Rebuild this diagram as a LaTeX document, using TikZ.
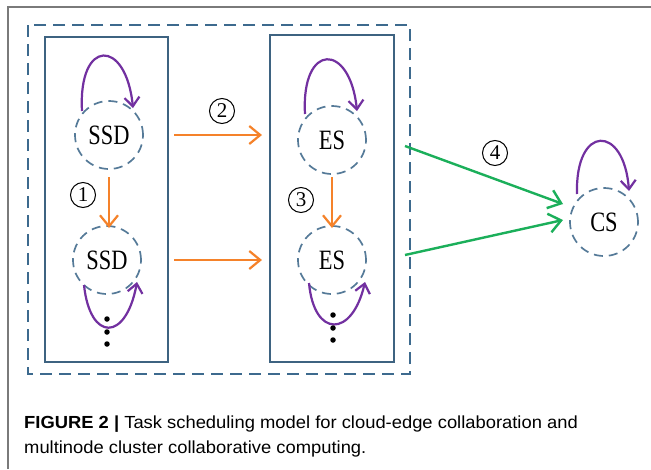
\documentclass[tikz,border=0pt]{standalone}
\usepackage{fontspec}
\setmainfont{Liberation Serif}
\newfontfamily\capfont{Liberation Sans}
\usetikzlibrary{arrows.meta}
\definecolor{frameg}{HTML}{7A7A7A}
\definecolor{boxblue}{HTML}{3E6381}
\definecolor{dashblue}{HTML}{3D6A8E}
\definecolor{circblue}{HTML}{557A98}
\definecolor{orng}{HTML}{F5822A}
\definecolor{grn}{HTML}{1BAF5A}
\definecolor{purp}{HTML}{7230A0}
\tikzset{
  x=1pt, y=-1pt,
  nodec/.style={circle, draw=circblue, line width=1.7pt, dash pattern=on 9pt off 6pt, minimum size=68pt, inner sep=0pt},
  nodetxt/.style={font=\fontsize{28}{28}\selectfont, inner sep=0pt, xscale=0.8, transform shape},
  orarrow/.style={draw=orng, line width=2.2pt, -{Straight Barb[length=11pt,width=18pt,line width=2.2pt]}},
  grarrow/.style={draw=grn, line width=2.4pt, -{Straight Barb[length=12pt,width=19pt,line width=2.4pt]}},
  loopar/.style={draw=purp, line width=2.2pt, -{Straight Barb[length=9pt,width=15pt,line width=2.2pt]}},
  numlab/.style={circle, draw=black, line width=1pt, minimum width=25pt, minimum height=25pt, inner sep=0pt, font=\fontsize{21}{21}\selectfont},
  dotn/.style={circle, fill=black, minimum size=5.5pt, inner sep=0pt},
  captxt/.style={anchor=base west, inner sep=0pt, font=\capfont\fontsize{17.5}{17.5}\selectfont, xscale=1.05, transform shape}
}
\begin{document}
\begin{tikzpicture}
\useasboundingbox (0,0) rectangle (651,469);
\fill[white] (0,0) rectangle (651,469);
% outer figure frame
\draw[frameg, line width=1.3pt] (8,469) -- (8,7) -- (651,7);
% dashed group
\draw[dashblue, line width=2pt, dash pattern=on 12pt off 7pt] (28,25) rectangle (410,374);
% inner boxes
\draw[boxblue, line width=2pt] (45,37) rectangle (168,362);
\draw[boxblue, line width=2pt] (270,35) rectangle (394,362);
% nodes
\node[nodec] (s1) at (109,135) {};
\node[nodec] (s2) at (107,260) {};
\node[nodec] (e1) at (332,140) {};
\node[nodec] (e2) at (332,260) {};
\node[nodec] (cs) at (604,222) {};
\node[nodetxt] (t1) at (s1) {SSD};
\node[nodetxt] (t2) at (s2) {SSD};
\node[nodetxt] (t3) at (e1) {ES};
\node[nodetxt] (t4) at (e2) {ES};
\node[nodetxt] (t5) at (cs) {CS};
% anchor coordinates
\coordinate (a1s) at (109,177); \coordinate (a1e) at (109,228);
\coordinate (a2s) at (174,135); \coordinate (a2e) at (262,135);
\coordinate (a5s) at (174,260); \coordinate (a5e) at (262,260);
\coordinate (a3s) at (332,177); \coordinate (a3e) at (332,228);
\coordinate (g1s) at (405,146); \coordinate (g1e) at (563,204);
\coordinate (g2s) at (405,255); \coordinate (g2e) at (563,220);
\draw[orarrow] (a1s) -- (a1e);
\draw[orarrow] (a2s) -- (a2e);
\draw[orarrow] (a5s) -- (a5e);
\draw[orarrow] (a3s) -- (a3e);
\draw[grarrow] (g1s) -- (g1e);
\draw[grarrow] (g2s) -- (g2e);
% loops
\draw[loopar] (82,111) .. controls (78,38) and (126,38) .. (133,108);
\draw[loopar] (305,114) .. controls (301,42) and (350,42) .. (357,111);
\draw[loopar] (577,194) .. controls (575,124) and (624,124) .. (629,191);
\draw[loopar] (84,285) .. controls (90,342) and (126,342) .. (137,282);
\draw[loopar] (309,283) .. controls (314,338) and (352,338) .. (365,282);
% dots
\node[dotn] (d1) at (107,319) {}; \node[dotn] (d2) at (107,332) {}; \node[dotn] (d3) at (107,344) {};
\node[dotn] (d4) at (333,315) {}; \node[dotn] (d5) at (333,328) {}; \node[dotn] (d6) at (333,340) {};
% labels
\node[numlab] (n1) at (83,195) {1};
\node[numlab] (n2) at (222,111) {2};
\node[numlab] (n3) at (301,200) {3};
\node[numlab] (n4) at (495,153) {4};
% caption
\node[captxt] (c1) at (24,428) {\textbf{FIGURE 2} \textbf{|} Task scheduling model for cloud-edge collaboration and};
\node[captxt] (c2) at (24,453) {multinode cluster collaborative computing.};
\end{tikzpicture}
\end{document}
